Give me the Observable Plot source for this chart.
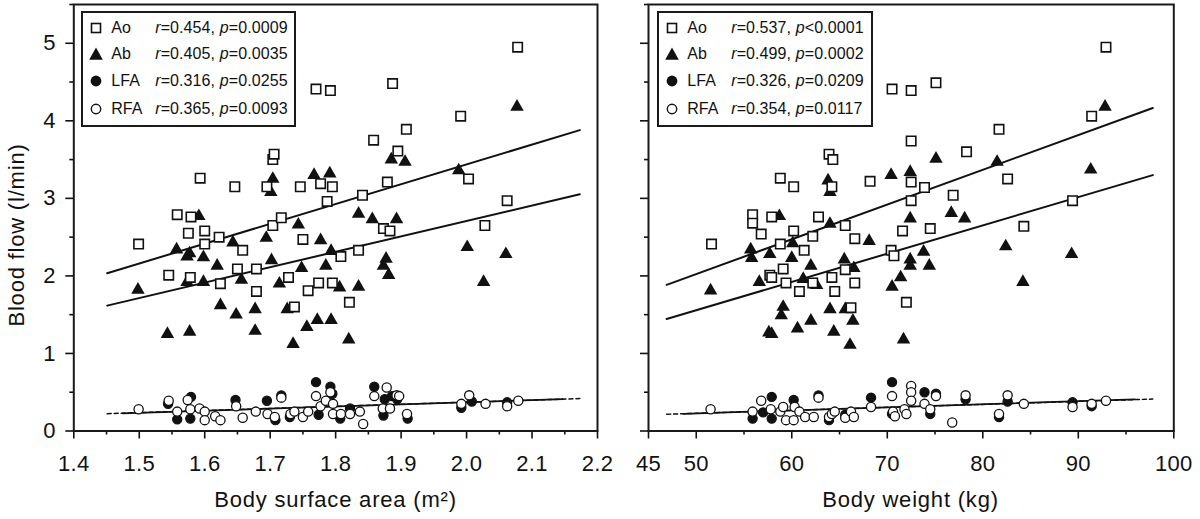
<!DOCTYPE html>
<html>
<head>
<meta charset="utf-8">
<script src="https://cdn.jsdelivr.net/npm/d3@7"></script>
<script src="https://cdn.jsdelivr.net/npm/@observablehq/plot@0.6"></script>
<style>
  html, body { margin: 0; padding: 0; background: #fff; }
  #wrap { position: relative; width: 1200px; height: 519px; overflow: hidden;
          font-family: "Liberation Sans", Arial, Helvetica, sans-serif; color: #111; }
  #wrap svg.panel { position: absolute; top: 0; }
  .ttl { position: absolute; font-size: 22px; line-height: 22px; white-space: nowrap; letter-spacing: 0.8px; text-align: center; }
  .lg { position: absolute; box-sizing: border-box; border: 2px solid #1a1a1a; background: #fff; }
  .lg .t { position: absolute; font-size: 16px; line-height: 18px; white-space: nowrap; letter-spacing: 0.1px; }
  .lg svg { position: absolute; }
</style>
</head>
<body>
<div id="wrap"></div>
<script>
// ---------------- data ----------------
const seriesNames = ["Ao", "Ab", "LFA", "RFA"];

// Left panel: body surface area (m²) vs blood flow (l/min)
const bsaAo = [[1.499,2.41],[1.545,2.01],[1.558,2.79],[1.579,2.76],[1.575,2.55],[1.578,1.98],[1.593,3.26],[1.600,2.58],[1.600,2.41],[1.622,2.50],[1.624,1.90],[1.646,3.15],[1.650,2.09],[1.658,2.33],[1.679,2.09],[1.679,1.80],[1.695,3.15],[1.704,3.50],[1.706,3.57],[1.704,2.65],[1.717,2.75],[1.728,1.98],[1.737,1.60],[1.746,3.15],[1.750,2.47],[1.758,1.81],[1.770,4.41],[1.792,4.39],[1.777,3.19],[1.774,1.91],[1.787,2.96],[1.795,3.15],[1.795,1.91],[1.808,2.25],[1.821,1.66],[1.835,2.33],[1.841,3.04],[1.858,3.75],[1.873,2.61],[1.879,3.21],[1.883,2.58],[1.887,4.48],[1.895,3.61],[1.908,3.89],[1.991,4.06],[2.003,3.25],[2.028,2.65],[2.062,2.97],[2.078,4.95]];
const bsaAb = [[1.498,1.82],[1.543,1.25],[1.557,2.34],[1.573,2.25],[1.577,2.29],[1.573,1.92],[1.577,1.28],[1.591,2.77],[1.598,2.24],[1.598,1.92],[1.619,2.13],[1.624,1.62],[1.643,2.43],[1.648,1.50],[1.656,1.95],[1.677,1.57],[1.677,1.29],[1.694,2.49],[1.702,2.20],[1.701,3.08],[1.704,3.25],[1.714,1.90],[1.726,1.57],[1.735,1.12],[1.743,2.66],[1.748,2.10],[1.756,1.34],[1.767,3.30],[1.772,1.43],[1.777,2.46],[1.785,2.13],[1.791,3.32],[1.793,2.32],[1.793,1.43],[1.806,1.85],[1.820,1.18],[1.835,2.80],[1.835,1.86],[1.856,2.73],[1.877,2.22],[1.873,2.13],[1.881,2.01],[1.885,3.50],[1.893,2.73],[1.906,3.47],[1.988,3.36],[2.001,2.37],[2.026,1.92],[2.060,2.28],[2.077,4.18]];
const bsaLfa = [[1.544,0.35],[1.558,0.15],[1.579,0.44],[1.578,0.16],[1.647,0.40],[1.695,0.39],[1.708,0.14],[1.717,0.46],[1.730,0.18],[1.770,0.63],[1.774,0.21],[1.792,0.57],[1.795,0.48],[1.807,0.16],[1.822,0.29],[1.859,0.57],[1.873,0.20],[1.875,0.41],[1.886,0.45],[1.894,0.41],[1.910,0.16],[1.992,0.30],[2.008,0.38],[2.062,0.37]];
const bsaRfa = [[1.499,0.28],[1.545,0.39],[1.558,0.25],[1.574,0.40],[1.578,0.28],[1.592,0.29],[1.600,0.25],[1.600,0.14],[1.616,0.19],[1.624,0.14],[1.648,0.32],[1.658,0.17],[1.678,0.25],[1.696,0.22],[1.707,0.18],[1.717,0.43],[1.731,0.22],[1.737,0.25],[1.750,0.18],[1.758,0.25],[1.770,0.45],[1.777,0.32],[1.785,0.39],[1.792,0.50],[1.796,0.35],[1.796,0.22],[1.808,0.22],[1.822,0.22],[1.837,0.25],[1.842,0.09],[1.859,0.45],[1.872,0.29],[1.878,0.56],[1.883,0.29],[1.893,0.46],[1.897,0.45],[1.909,0.22],[1.992,0.35],[2.004,0.46],[2.029,0.35],[2.062,0.32],[2.079,0.39]];

// Right panel: body weight (kg) vs blood flow (l/min)
const wtAo = [[51.6,2.41],[55.9,2.79],[55.9,2.68],[56.8,2.54],[57.7,2.01],[57.9,1.98],[57.9,2.76],[58.8,3.26],[58.8,2.41],[59.1,2.09],[59.4,1.91],[60.2,3.15],[60.2,2.58],[60.8,1.80],[61.3,2.33],[62.2,2.51],[62.2,1.91],[62.8,2.76],[63.9,3.57],[64.3,3.50],[64.2,3.15],[64.2,1.98],[64.5,1.80],[65.6,2.65],[65.6,2.08],[66.2,1.59],[66.6,2.48],[66.6,1.91],[68.2,3.22],[70.4,2.33],[70.7,2.26],[70.5,4.41],[71.6,2.58],[72.0,1.66],[72.5,4.39],[72.5,3.74],[72.5,3.21],[72.5,2.97],[73.9,3.14],[74.5,2.61],[75.1,4.49],[76.9,3.04],[78.3,3.60],[81.7,3.89],[82.6,3.25],[84.3,2.64],[89.4,2.97],[91.4,4.06],[92.9,4.95]];
const wtAb = [[51.5,1.81],[55.7,2.34],[55.8,2.23],[56.6,1.92],[57.6,1.27],[57.9,1.25],[57.7,2.28],[58.7,2.77],[58.9,1.49],[59.1,1.60],[60.1,2.42],[60.0,2.23],[60.6,1.32],[61.2,1.96],[62.0,2.13],[62.0,1.42],[62.6,1.88],[63.8,3.23],[64.0,3.08],[64.0,2.67],[64.0,1.57],[64.4,1.28],[65.5,2.21],[65.6,1.57],[66.1,1.11],[66.4,1.42],[66.5,2.10],[68.1,2.45],[70.4,3.30],[70.5,1.86],[71.4,1.98],[71.7,1.18],[72.4,3.34],[72.4,2.74],[72.4,2.21],[72.4,2.13],[73.8,2.31],[74.4,2.13],[75.1,3.51],[76.7,2.81],[78.1,2.74],[81.5,3.47],[82.4,2.38],[84.2,1.92],[89.3,2.28],[91.3,3.37],[92.8,4.18]];
const wtLfa = [[55.9,0.16],[57.0,0.24],[57.9,0.44],[57.9,0.16],[60.2,0.40],[62.8,0.46],[63.9,0.14],[65.6,0.21],[68.3,0.43],[70.5,0.63],[70.5,0.22],[73.9,0.50],[74.5,0.22],[75.1,0.48],[78.2,0.41],[81.7,0.18],[82.6,0.38],[89.4,0.37],[91.4,0.32]];
const wtRfa = [[51.5,0.28],[55.9,0.25],[56.8,0.39],[57.8,0.28],[58.8,0.25],[59.1,0.31],[59.4,0.14],[60.2,0.14],[60.3,0.31],[60.8,0.25],[61.4,0.18],[62.3,0.18],[62.8,0.43],[63.9,0.18],[64.2,0.22],[64.5,0.25],[65.6,0.17],[66.2,0.25],[66.5,0.18],[68.3,0.31],[70.5,0.45],[70.6,0.25],[70.8,0.19],[71.8,0.28],[72.0,0.22],[72.5,0.58],[72.5,0.50],[72.5,0.39],[73.9,0.35],[74.5,0.28],[75.1,0.45],[76.8,0.11],[78.2,0.46],[81.7,0.22],[82.6,0.46],[84.3,0.35],[89.4,0.31],[91.4,0.35],[92.9,0.39]];

// Regression lines (end points)
const bsaFitX = [1.451, 2.173];
const bsaAoFit = [2.035, 3.88];
const bsaAbFit = [1.617, 3.053];
const bsaFemFit = [0.224, 0.418];
const bsaFemSolidX = [1.475, 2.147];
const bsaFemSolidY = [0.228, 0.411];

const wtFitX = [46.9, 97.8];
const wtAoFit = [1.885, 4.166];
const wtAbFit = [1.445, 3.30];
const wtFemFit = [0.216, 0.412];
const wtFemSolidX = [48.7, 95.9];
const wtFemSolidY = [0.222, 0.408];

// Statistics in the legends
const bsaR = ["0.454", "0.405", "0.316", "0.365"];
const bsaP = ["=0.0009", "=0.0035", "=0.0255", "=0.0093"];
const wtR  = ["0.537", "0.499", "0.326", "0.354"];
const wtP  = ["<0.0001", "=0.0002", "=0.0209", "=0.0117"];

// Ticks
const yMajor = [0, 1, 2, 3, 4, 5];
const yMinor = [0.5, 1.5, 2.5, 3.5, 4.5, 5.5];
const bsaMajor = [1.4, 1.5, 1.6, 1.7, 1.8, 1.9, 2.0, 2.1, 2.2];
const bsaMinor = [1.45, 1.55, 1.65, 1.75, 1.85, 1.95, 2.05, 2.15];
const wtMajor = [45, 50, 60, 70, 80, 90, 100];
const wtMinor = [55, 65, 75, 85, 95];

// ---------------- drawing ----------------
const FONT = '"Liberation Sans", Arial, Helvetica, sans-serif';
const INK = "#111";

function seg(xs, ys) { return xs.map((x, i) => ({x, y: ys[i]})); }

function panel(cfg) {
  const svg = Plot.plot({
    width: 600, height: 519,
    marginLeft: cfg.ml, marginRight: cfg.mr, marginTop: 4, marginBottom: 88.5,
    x: {domain: cfg.xDomain},
    y: {domain: [0, 5.5]},
    style: {fontFamily: FONT, fontSize: "22px", color: INK, background: "transparent", overflow: "visible", letterSpacing: "0.3px"},
    marks: [
      Plot.axisY({ticks: yMajor, tickSize: 8, tickPadding: 10, strokeWidth: 1.6,
                  tickFormat: cfg.yLabels ? (d => String(d)) : (() => ""), label: null}),
      Plot.axisY({ticks: yMinor, tickSize: 4, strokeWidth: 1.6, tickFormat: () => "", label: null}),
      Plot.axisX({ticks: cfg.xMajor, tickSize: 8, tickPadding: 16.5, strokeWidth: 1.6, tickFormat: cfg.fmt, label: null}),
      Plot.axisX({ticks: cfg.xMinor, tickSize: 4, strokeWidth: 1.6, tickFormat: () => "", label: null}),
      Plot.frame({stroke: "#1a1a1a", strokeWidth: 2}),
      Plot.line(seg(cfg.fitX, cfg.femFit), {x: "x", y: "y", stroke: INK, strokeWidth: 1.5, strokeDasharray: "4,3"}),
      Plot.line(seg(cfg.femSolidX, cfg.femSolidY), {x: "x", y: "y", stroke: INK, strokeWidth: 1.8}),
      Plot.line(seg(cfg.fitX, cfg.aoFit), {x: "x", y: "y", stroke: INK, strokeWidth: 2}),
      Plot.line(seg(cfg.fitX, cfg.abFit), {x: "x", y: "y", stroke: INK, strokeWidth: 2}),
      Plot.dot(cfg.ab, {x: d => d[0], y: d => d[1], symbol: "triangle", r: 5, fill: INK, stroke: "none"}),
      Plot.dot(cfg.ao, {x: d => d[0], y: d => d[1], symbol: "square", r: 5.3, fill: "#fff", stroke: INK, strokeWidth: 1.6}),
      Plot.dot(cfg.lfa, {x: d => d[0], y: d => d[1], r: 4.6, fill: INK, stroke: INK, strokeWidth: 1.2}),
      Plot.dot(cfg.rfa, {x: d => d[0], y: d => d[1], r: 4.6, fill: "#fff", stroke: INK, strokeWidth: 1.3})
    ]
  });
  svg.classList.add("panel");
  svg.style.left = cfg.left + "px";
  return svg;
}

const wrap = document.getElementById("wrap");

wrap.appendChild(panel({
  left: 0, ml: 73.3, mr: 3, xDomain: [1.4, 2.2], xMajor: bsaMajor, xMinor: bsaMinor,
  fmt: d => d.toFixed(1), yLabels: true,
  ao: bsaAo, ab: bsaAb, lfa: bsaLfa, rfa: bsaRfa,
  fitX: bsaFitX, aoFit: bsaAoFit, abFit: bsaAbFit, femFit: bsaFemFit,
  femSolidX: bsaFemSolidX, femSolidY: bsaFemSolidY
}));

wrap.appendChild(panel({
  left: 600, ml: 48, mr: 26.7, xDomain: [45, 100], xMajor: wtMajor, xMinor: wtMinor,
  fmt: d => String(d), yLabels: false,
  ao: wtAo, ab: wtAb, lfa: wtLfa, rfa: wtRfa,
  fitX: wtFitX, aoFit: wtAoFit, abFit: wtAbFit, femFit: wtFemFit,
  femSolidX: wtFemSolidX, femSolidY: wtFemSolidY
}));

// Axis titles
function title(text, cx, top, rotate) {
  const d = document.createElement("div");
  d.className = "ttl";
  d.textContent = text;
  d.style.width = "340px";
  d.style.left = (cx - 170) + "px";
  d.style.top = top + "px";
  if (rotate) d.style.transform = "rotate(-90deg)";
  wrap.appendChild(d);
}
title("Body surface area (m\u00B2)", 335.5, 488.5, false);
title("Body weight (kg)", 910.5, 488.5, false);
title("Blood flow (l/min)", 16.5, 235 - 11, true);

// Legends
const rowY = [28, 54.3, 81.3, 108.8];
const symbols = [
  '<rect x="3.5" y="3.5" width="9" height="9" fill="#fff" stroke="#111" stroke-width="1.6"/>',
  '<path d="M8 1.6 L14.8 13.8 L1.2 13.8 Z" fill="#111"/>',
  '<circle cx="8" cy="8" r="5.4" fill="#111"/>',
  '<circle cx="8" cy="8" r="4.7" fill="#fff" stroke="#111" stroke-width="1.4"/>'
];
function legend(left, top, w, h, rs, ps) {
  const box = document.createElement("div");
  box.className = "lg";
  Object.assign(box.style, {left: left + "px", top: top + "px", width: w + "px", height: h + "px"});
  const b = 2;
  seriesNames.forEach((name, i) => {
    const cy = rowY[i] - top - b;
    const s = document.createElementNS("http://www.w3.org/2000/svg", "svg");
    s.setAttribute("width", 16); s.setAttribute("height", 16);
    s.style.left = (15 - b - 8) + "px"; s.style.top = (cy - 8) + "px";
    s.innerHTML = symbols[i];
    box.appendChild(s);
    const lab = document.createElement("div");
    lab.className = "t"; lab.textContent = name;
    lab.style.left = (30.5 - b) + "px"; lab.style.top = (cy - 9) + "px";
    box.appendChild(lab);
    const st = document.createElement("div");
    st.className = "t";
    st.innerHTML = "<i>r</i>=" + rs[i] + ", <i>p</i>" + ps[i];
    st.style.left = (74.5 - b) + "px"; st.style.top = (cy - 9) + "px";
    box.appendChild(st);
  });
  wrap.appendChild(box);
}
legend(80.7, 10.5, 215, 116, bsaR, bsaP);
legend(656.7, 10.5, 216, 116, wtR, wtP);
</script>
</body>
</html>
